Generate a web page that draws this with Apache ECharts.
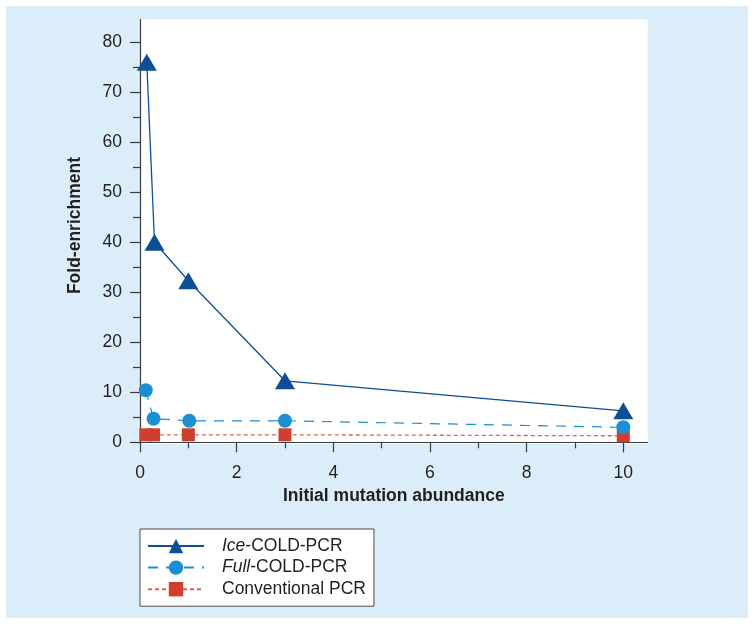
<!DOCTYPE html>
<html>
<head>
<meta charset="utf-8">
<script src="https://cdn.jsdelivr.net/npm/echarts@6/dist/echarts.min.js"></script>
<style>
html,body{margin:0;padding:0;background:#ffffff;}
#panel{position:absolute;left:6px;top:6px;width:742px;height:612px;background:#dcedfa;}
#chart{position:absolute;left:0;top:0;width:755px;height:626px;}
</style>
</head>
<body>
<div id="panel"></div>
<div id="chart"></div>
<script>
// ---- data ----
var seriesNames = ['Ice-COLD-PCR', 'Full-COLD-PCR', 'Conventional PCR'];
var iceX = [0.14, 0.3, 1, 3, 10];
var iceY = [76, 40, 32.3, 12.3, 6.3];
var fullX = [0.12, 0.28, 1.02, 3, 10];
var fullY = [10.4, 4.7, 4.3, 4.3, 3.0];
var convX = [0.12, 0.28, 1, 3, 10];
var convY = [1.5, 1.5, 1.5, 1.5, 1.3];
var yMajorTicks = [0, 10, 20, 30, 40, 50, 60, 70, 80];
var yMinorTicks = [5, 15, 25, 35, 45, 55, 65, 75];
var xMajorTicks = [0, 2, 4, 6, 8, 10];
var xMinorTicks = [1, 3, 5, 7, 9];
var xTitle = 'Initial mutation abundance';
var yTitle = 'Fold-enrichment';

function pairs(xs, ys) { return xs.map(function (x, i) { return [x, ys[i]]; }); }

var FONT = '"Liberation Sans", Arial, Helvetica, sans-serif';
var TXT = '#231f20';
var AX = '#3a3a3a';
var FS = 17.5;
var chart = echarts.init(document.getElementById('chart'), null, {renderer: 'canvas'});

var yMin = -0.34, yMax = 84.56, xMin = 0, xMax = 10.505;

chart.setOption({
  backgroundColor: 'transparent',
  animation: false,
  textStyle: {fontFamily: FONT},
  grid: {left: 140, right: 107.3, top: 19.5, bottom: 182, show: true, backgroundColor: '#ffffff', borderWidth: 0, containLabel: false},
  graphic: [{
    type: 'text', left: 66, top: 157, z: 10,
    style: {text: yTitle, fontFamily: FONT, fontSize: FS, fontWeight: 'bold', fill: TXT},
    rotation: Math.PI / 2
  }],
  xAxis: [{
    type: 'value', min: xMin, max: xMax,
    name: xTitle, nameLocation: 'middle', nameGap: 42,
    nameTextStyle: {fontFamily: FONT, fontSize: FS, fontWeight: 'bold', color: TXT},
    axisLine: {show: true, lineStyle: {color: AX, width: 1.2}},
    axisTick: {show: true, length: 10, lineStyle: {color: AX, width: 1.2}, customValues: xMajorTicks},
    axisLabel: {show: true, margin: 20, fontSize: FS, color: TXT, fontFamily: FONT, customValues: xMajorTicks},
    splitLine: {show: false}
  }, {
    type: 'value', min: xMin, max: xMax, position: 'bottom',
    axisLine: {show: false},
    axisTick: {show: true, length: 6, lineStyle: {color: AX, width: 1.2}, customValues: xMinorTicks},
    axisLabel: {show: false},
    splitLine: {show: false}
  }],
  yAxis: [{
    type: 'value', min: yMin, max: yMax,
    axisLine: {show: true, lineStyle: {color: AX, width: 1.2}},
    axisTick: {show: true, length: 10, lineStyle: {color: AX, width: 1.2}, customValues: yMajorTicks},
    axisLabel: {show: true, margin: 18, fontSize: FS, color: TXT, fontFamily: FONT, customValues: yMajorTicks},
    splitLine: {show: false}
  }, {
    type: 'value', min: yMin, max: yMax, position: 'left',
    axisLine: {show: false},
    axisTick: {show: true, length: 7, lineStyle: {color: AX, width: 1.2}, customValues: yMinorTicks},
    axisLabel: {show: false},
    splitLine: {show: false}
  }],
  legend: {
    data: seriesNames,
    orient: 'vertical',
    left: 140, top: 529,
    padding: [8, 8, 8, 7],
    itemWidth: 56, itemHeight: 18, itemGap: 3.6,
    backgroundColor: '#ffffff',
    borderColor: '#4a4a4a', borderWidth: 1, borderRadius: 0,
    textStyle: {fontFamily: FONT, fontSize: FS, color: TXT, padding: [0, 0, 0, 13],
      rich: {i: {fontFamily: FONT, fontSize: FS, color: TXT, fontStyle: 'italic'}}},
    formatter: function (name) {
      if (name === 'Ice-COLD-PCR') return '{i|Ice}-COLD-PCR';
      if (name === 'Full-COLD-PCR') return '{i|Full}-COLD-PCR';
      return name;
    }
  },
  series: [{
    name: 'Conventional PCR', type: 'line', xAxisIndex: 0, yAxisIndex: 0,
    data: pairs(convX, convY),
    symbol: 'rect', symbolSize: 13,
    itemStyle: {color: '#cf3f30'},
    lineStyle: {color: '#e0625a', width: 1.3, type: [4, 3]},
    z: 2
  }, {
    name: 'Full-COLD-PCR', type: 'line', xAxisIndex: 0, yAxisIndex: 0,
    data: pairs(fullX, fullY),
    symbol: 'circle', symbolSize: 14,
    itemStyle: {color: '#1a8fd2'},
    lineStyle: {color: '#1a8fd2', width: 1.2, type: [10, 8]},
    z: 3
  }, {
    name: 'Ice-COLD-PCR', type: 'line', xAxisIndex: 0, yAxisIndex: 0,
    data: pairs(iceX, iceY),
    symbol: 'triangle', symbolSize: [20, 17],
    itemStyle: {color: '#0c4f97'},
    lineStyle: {color: '#0c4f97', width: 1.3, type: 'solid'},
    z: 4
  }]
});
</script>
</body>
</html>
